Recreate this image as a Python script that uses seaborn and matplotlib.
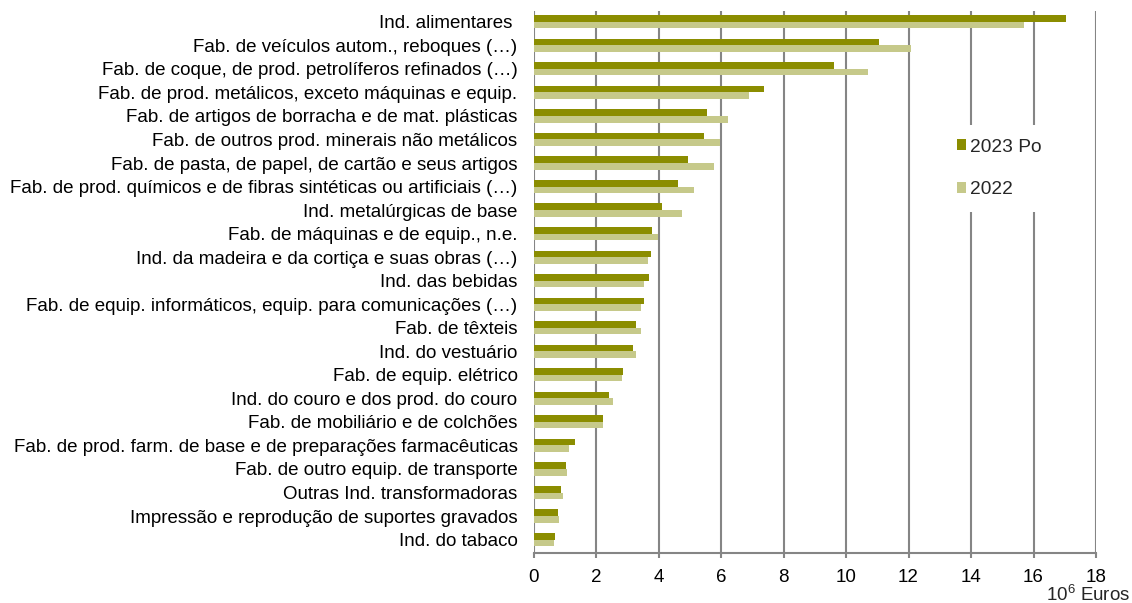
import numpy as np
import pandas as pd
import matplotlib
matplotlib.use("Agg")
import matplotlib.pyplot as plt
import seaborn as sns

# Manufacturing industries (CAE Rev.3 sections), values in 10^6 euros
industries = [
    "Ind. alimentares ",
    "Fab. de veículos autom., reboques (…)",
    "Fab. de coque, de prod. petrolíferos refinados (…)",
    "Fab. de prod. metálicos, exceto máquinas e equip.",
    "Fab. de artigos de borracha e de mat. plásticas",
    "Fab. de outros prod. minerais não metálicos",
    "Fab. de pasta, de papel, de cartão e seus artigos",
    "Fab. de prod. químicos e de fibras sintéticas ou artificiais (…)",
    "Ind. metalúrgicas de base",
    "Fab. de máquinas e de equip., n.e.",
    "Ind. da madeira e da cortiça e suas obras (…)",
    "Ind. das bebidas",
    "Fab. de equip. informáticos, equip. para comunicações (…)",
    "Fab. de têxteis",
    "Ind. do vestuário",
    "Fab. de equip. elétrico",
    "Ind. do couro e dos prod. do couro",
    "Fab. de mobiliário e de colchões",
    "Fab. de prod. farm. de base e de preparações farmacêuticas",
    "Fab. de outro equip. de transporte",
    "Outras Ind. transformadoras",
    "Impressão e reprodução de suportes gravados",
    "Ind. do tabaco",
]

values_2023 = [17.03, 11.04, 9.60, 7.36, 5.54, 5.47, 4.95, 4.62, 4.10, 3.78, 3.75,
               3.69, 3.53, 3.29, 3.18, 2.86, 2.40, 2.21, 1.33, 1.04, 0.88, 0.77, 0.70]
values_2022 = [15.70, 12.07, 10.70, 6.89, 6.21, 5.98, 5.76, 5.14, 4.76, 3.97, 3.65,
               3.53, 3.44, 3.44, 3.28, 2.82, 2.53, 2.21, 1.12, 1.06, 0.94, 0.80, 0.67]

series_names = ["2023 Po", "2022"]
x_ticks = [0, 2, 4, 6, 8, 10, 12, 14, 16, 18]
unit_label = r"10$^{6}$ Euros"

df = pd.DataFrame({
    "industria": industries * 2,
    "valor": values_2023 + values_2022,
    "ano": [series_names[0]] * len(industries) + [series_names[1]] * len(industries),
})

sns.set_theme(style="white")
plt.rcParams["font.family"] = ["Liberation Sans", "DejaVu Sans"]
plt.rcParams["mathtext.fontset"] = "custom"
plt.rcParams["mathtext.rm"] = "Liberation Sans"
plt.rcParams["mathtext.it"] = "Liberation Sans:italic"
plt.rcParams["mathtext.bf"] = "Liberation Sans:bold"

W, H = 1132, 603
fig = plt.figure(figsize=(W / 100, H / 100), dpi=100)
ax = fig.add_axes([533.5 / W, 1 - 553 / H, (1096 - 533.5) / W, (553 - 10.5) / H])

grid_col = "#858585"
palette = {series_names[0]: "#8B8D00", series_names[1]: "#C6C98A"}
label_fs = 13.5

sns.barplot(data=df, y="industria", x="valor", hue="ano", hue_order=series_names,
            order=industries, palette=palette, orient="h", width=0.56,
            saturation=1, edgecolor="none", linewidth=0, ax=ax, legend=True, zorder=3)

ax.set_xlim(0, 18)
ax.set_ylim(len(industries) - 1 + 0.57, -0.48)
ax.set_xticks(x_ticks)
ax.set_xticklabels([str(t) for t in x_ticks])
ax.set_xlabel("")
ax.set_ylabel("")

for t in x_ticks:
    ax.axvline(t, color=grid_col, lw=1.5, zorder=1)

for side in ["top", "right", "left"]:
    ax.spines[side].set_visible(False)
ax.spines["bottom"].set_color(grid_col)
ax.spines["bottom"].set_linewidth(1.5)

ax.tick_params(axis="x", which="major", bottom=True, length=3.8, width=1.5,
               color=grid_col, direction="out", pad=7.5, labelsize=label_fs, labelcolor="black")
ax.tick_params(axis="y", length=0, pad=11.5, labelsize=label_fs, labelcolor="black")

handles, labels = ax.get_legend_handles_labels()
leg = ax.legend(handles, labels, loc="center left",
                bbox_to_anchor=(944 / W, 1 - 168.5 / H), bbox_transform=fig.transFigure,
                frameon=True, facecolor="white", edgecolor="none", framealpha=1,
                fontsize=13.8, handlelength=0.47, handleheight=0.47, handletextpad=0.2,
                labelspacing=1.35, borderpad=0.7, borderaxespad=0, fancybox=False)
leg.set_zorder(5)

fig.text(1130 / W, 1 - 601 / H, unit_label, ha="right", va="baseline", fontsize=label_fs)

fig.savefig("out.png", dpi=100)
